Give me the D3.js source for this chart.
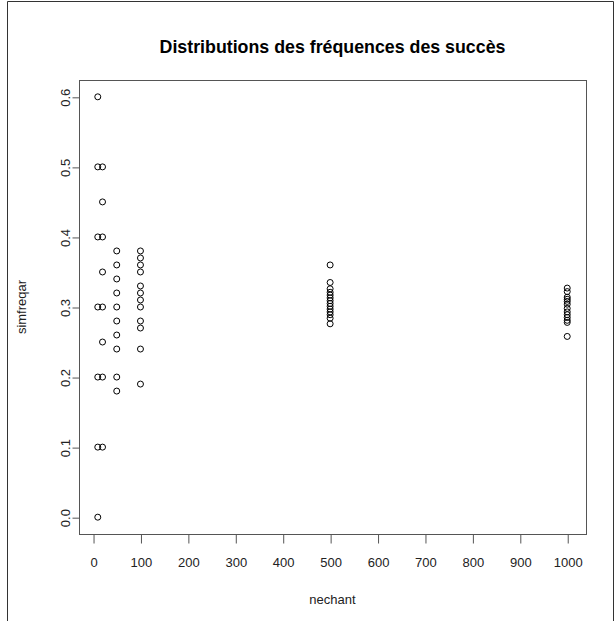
<!DOCTYPE html>
<html>
<head>
<meta charset="utf-8">
<script src="https://cdn.jsdelivr.net/npm/d3@7"></script>
<style>
  body { margin: 0; background: #fff; }
  svg { display: block; font-family: "Liberation Sans", Arial, sans-serif; }
</style>
</head>
<body>
<svg id="chart"></svg>
<script>
// sample sizes and simulated success frequencies
const n10 = [0.6, 0.5, 0.4, 0.3, 0.2, 0.1, 0.0];
const n20 = [0.5, 0.45, 0.4, 0.35, 0.3, 0.25, 0.2, 0.1];
const n50 = [0.38, 0.36, 0.34, 0.32, 0.30, 0.28, 0.26, 0.24, 0.20, 0.18];
const n100 = [0.38, 0.37, 0.36, 0.35, 0.33, 0.32, 0.31, 0.30, 0.28, 0.27, 0.24, 0.19];
const n500 = [0.36, 0.335, 0.326, 0.321, 0.317, 0.313, 0.309, 0.305, 0.301, 0.297, 0.293, 0.289, 0.284, 0.276];
const n1000 = [0.327, 0.322, 0.314, 0.311, 0.308, 0.304, 0.298, 0.293, 0.289, 0.285, 0.281, 0.278, 0.258];

const sampleSizes = [10, 20, 50, 100, 500, 1000];
const freqs = [n10, n20, n50, n100, n500, n1000];

const xTicks = [0, 100, 200, 300, 400, 500, 600, 700, 800, 900, 1000];
const yTicks = [0.0, 0.1, 0.2, 0.3, 0.4, 0.5, 0.6];

const W = 615, H = 621;
const box = { left: 79, right: 586, top: 80, bottom: 534 };

const points = [];
sampleSizes.forEach((n, i) => freqs[i].forEach(f => points.push({ n: n, f: f })));

const svg = d3.select("#chart").attr("width", W).attr("height", H);

// R-style axis ranges: extend by 4%
const xr = [10, 1000], yr = [0, 0.6];
const x = d3.scaleLinear()
    .domain([xr[0] - 0.04 * (xr[1] - xr[0]), xr[1] + 0.04 * (xr[1] - xr[0])])
    .range([box.left, box.right]);
const y = d3.scaleLinear()
    .domain([yr[0] - 0.04 * (yr[1] - yr[0]), yr[1] + 0.04 * (yr[1] - yr[0])])
    .range([box.bottom, box.top]);

// outer frame
svg.append("path")
    .attr("d", `M7.5,${H} L7.5,1.5 L613.5,1.5 L613.5,${H}`)
    .attr("fill", "none")
    .attr("stroke", "#333")
    .attr("stroke-width", 1);

// plot box
svg.append("rect")
    .attr("x", box.left + 0.5).attr("y", box.top + 0.5)
    .attr("width", box.right - box.left).attr("height", box.bottom - box.top)
    .attr("fill", "none")
    .attr("stroke", "#555")
    .attr("stroke-width", 1);

// X axis
const xAxis = svg.append("g")
    .attr("transform", `translate(0.5,${box.bottom + 0.5})`)
    .call(d3.axisBottom(x).tickValues(xTicks).tickSize(9).tickPadding(14).tickFormat(d3.format("d")));
xAxis.select(".domain").attr("stroke", "#555")
    .attr("d", `M${x(0)},0H${x(1000)}`);
xAxis.selectAll(".tick line").attr("stroke", "#555");
xAxis.selectAll(".tick text").attr("font-size", 13).attr("fill", "#222")
    .attr("font-family", "Liberation Sans, Arial, sans-serif");

// Y axis
const yAxis = svg.append("g")
    .attr("transform", `translate(${box.left + 0.5},0.5)`)
    .call(d3.axisLeft(y).tickValues(yTicks).tickSize(7).tickFormat(d3.format(".1f")));
yAxis.select(".domain").attr("stroke", "#555")
    .attr("d", `M0,${y(0)}V${y(0.6)}`);
yAxis.selectAll(".tick line").attr("stroke", "#555");
yAxis.selectAll(".tick text")
    .attr("font-size", 13).attr("fill", "#222")
    .attr("font-family", "Liberation Sans, Arial, sans-serif")
    .attr("x", null)
    .attr("text-anchor", "middle")
    .attr("transform", "translate(-10,0) rotate(-90)")
    .attr("dy", "0");

// points
svg.append("g").selectAll("circle")
    .data(points)
    .enter()
    .append("circle")
    .attr("cx", d => x(d.n))
    .attr("cy", d => y(d.f))
    .attr("r", 3)
    .attr("fill", "none")
    .attr("stroke", "#000")
    .attr("stroke-width", 1);

// title and labels
const cx = (box.left + box.right) / 2;
svg.append("text")
    .attr("x", cx).attr("y", 53)
    .attr("text-anchor", "middle")
    .attr("font-size", 17.8).attr("font-weight", "bold")
    .text("Distributions des fréquences des succès");

svg.append("text")
    .attr("x", cx).attr("y", 604)
    .attr("text-anchor", "middle")
    .attr("font-size", 13).attr("fill", "#222")
    .text("nechant");

svg.append("text")
    .attr("transform", `translate(26,${(box.top + box.bottom) / 2}) rotate(-90)`)
    .attr("text-anchor", "middle")
    .attr("font-size", 13).attr("fill", "#222")
    .text("simfreqar");
</script>
</body>
</html>
